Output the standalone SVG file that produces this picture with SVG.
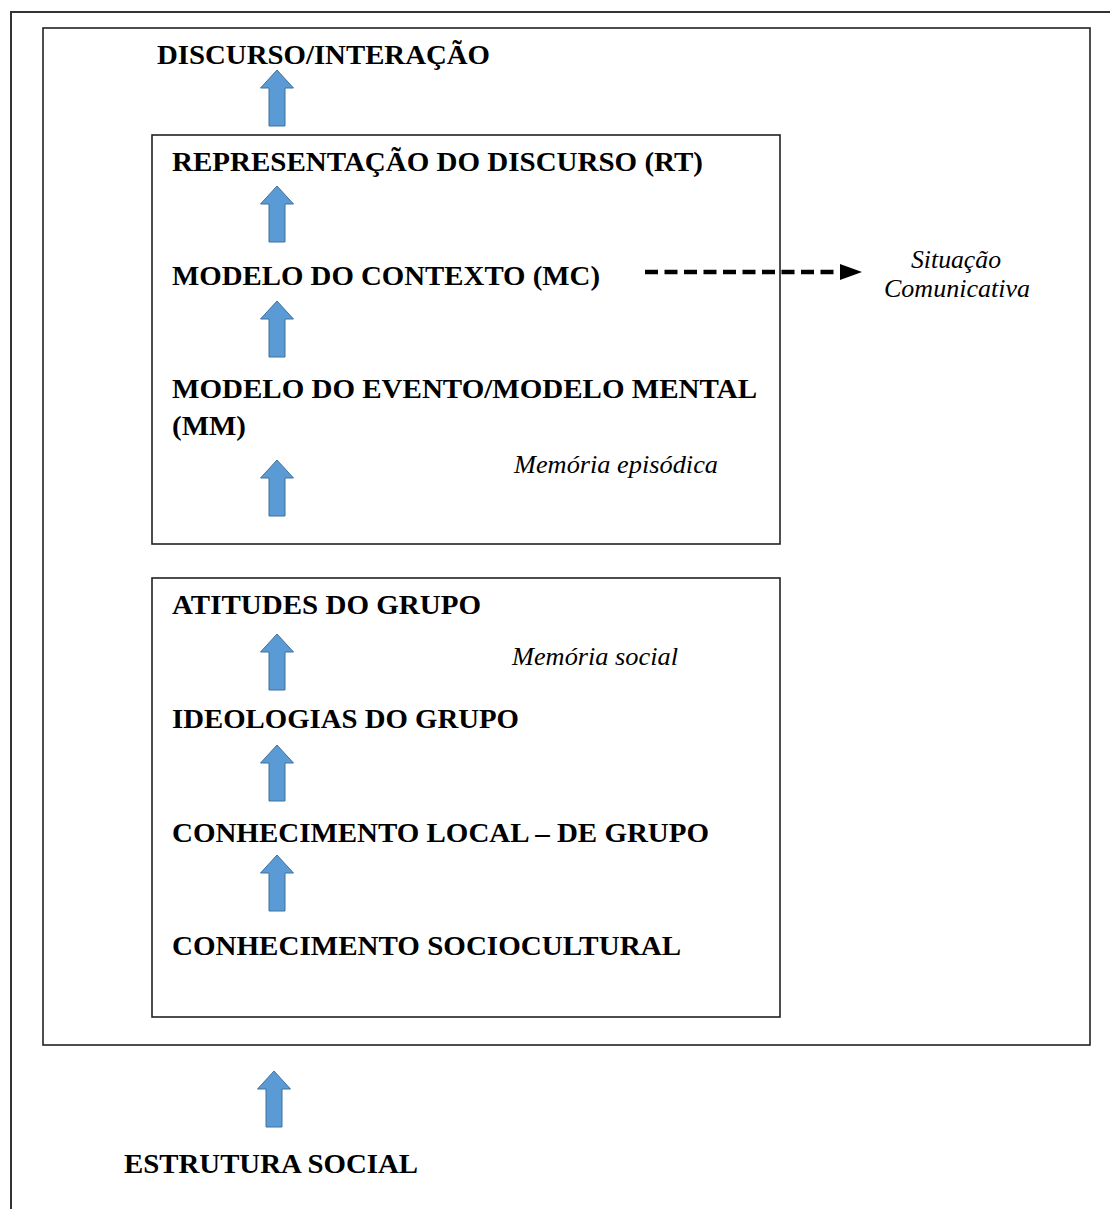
<svg xmlns="http://www.w3.org/2000/svg" xmlns:xlink="http://www.w3.org/1999/xlink" width="1110" height="1209" viewBox="0 0 1110 1209">
<style>
.frame{fill:none;stroke:#333;stroke-width:2}
.box{fill:none;stroke:#222;stroke-width:1.6}
.b{font-family:"Liberation Serif","Times New Roman",serif;font-weight:bold;font-size:27.5px;fill:#000}
.i{font-family:"Liberation Serif","Times New Roman",serif;font-style:italic;font-size:25px;fill:#000}
.arr{fill:#5B9BD5;stroke:#41719C;stroke-width:1}
.dash{fill:none;stroke:#000;stroke-width:4.5;stroke-dasharray:13 6.5}
</style>
<defs>
<path id="up" class="arr" d="M0,0 L16.5,18 L8,18 L8,56 L-8,56 L-8,18 L-16.5,18 Z"/>
</defs>
<rect width="1110" height="1209" fill="#fff"/>
<g id="frames">
<path class="frame" d="M11,1209 V12 H1110"/>
<rect class="box" x="43" y="28" width="1047" height="1017"/>
</g>
<g id="box-episodic"><rect class="box" x="152" y="135" width="628" height="409"/></g>
<g id="box-social"><rect class="box" x="152" y="578" width="628" height="439"/></g>
<g id="n-discurso"><text class="b" x="157" y="64" textLength="333" lengthAdjust="spacingAndGlyphs">DISCURSO/INTERAÇÃO</text></g>
<g id="n-representacao"><text class="b" x="172" y="171" textLength="531" lengthAdjust="spacingAndGlyphs">REPRESENTAÇÃO DO DISCURSO (RT)</text></g>
<g id="n-contexto"><text class="b" x="172" y="285" textLength="428" lengthAdjust="spacingAndGlyphs">MODELO DO CONTEXTO (MC)</text></g>
<g id="n-evento"><text class="b" x="172" y="398" textLength="585" lengthAdjust="spacingAndGlyphs">MODELO DO EVENTO/MODELO MENTAL</text><text class="b" x="172" y="435" textLength="74" lengthAdjust="spacingAndGlyphs">(MM)</text></g>
<g id="n-memoria-episodica"><text class="i" x="514" y="473" textLength="204" lengthAdjust="spacingAndGlyphs">Memória episódica</text></g>
<g id="n-atitudes"><text class="b" x="172" y="614" textLength="309" lengthAdjust="spacingAndGlyphs">ATITUDES DO GRUPO</text></g>
<g id="n-memoria-social"><text class="i" x="512" y="665" textLength="166" lengthAdjust="spacingAndGlyphs">Memória social</text></g>
<g id="n-ideologias"><text class="b" x="172" y="728" textLength="347" lengthAdjust="spacingAndGlyphs">IDEOLOGIAS DO GRUPO</text></g>
<g id="n-local"><text class="b" x="172" y="842" textLength="537" lengthAdjust="spacingAndGlyphs">CONHECIMENTO LOCAL – DE GRUPO</text></g>
<g id="n-sociocultural"><text class="b" x="172" y="955" textLength="509" lengthAdjust="spacingAndGlyphs">CONHECIMENTO SOCIOCULTURAL</text></g>
<g id="n-estrutura"><text class="b" x="124" y="1173" textLength="294" lengthAdjust="spacingAndGlyphs">ESTRUTURA SOCIAL</text></g>
<g id="n-situacao"><text class="i" x="911" y="268" textLength="90" lengthAdjust="spacingAndGlyphs">Situação</text><text class="i" x="884" y="297" textLength="146" lengthAdjust="spacingAndGlyphs">Comunicativa</text></g>
<g id="connectors">
<use xlink:href="#up" x="277" y="70"/>
<use xlink:href="#up" x="277" y="186"/>
<use xlink:href="#up" x="277" y="301"/>
<use xlink:href="#up" x="277" y="460"/>
<use xlink:href="#up" x="277" y="634"/>
<use xlink:href="#up" x="277" y="745"/>
<use xlink:href="#up" x="277" y="855"/>
<use xlink:href="#up" x="274" y="1071"/>
<line class="dash" x1="645" y1="272" x2="842" y2="272"/>
<path d="M840,264 L862,272 L840,280 Z" fill="#000"/>
</g>
</svg>
